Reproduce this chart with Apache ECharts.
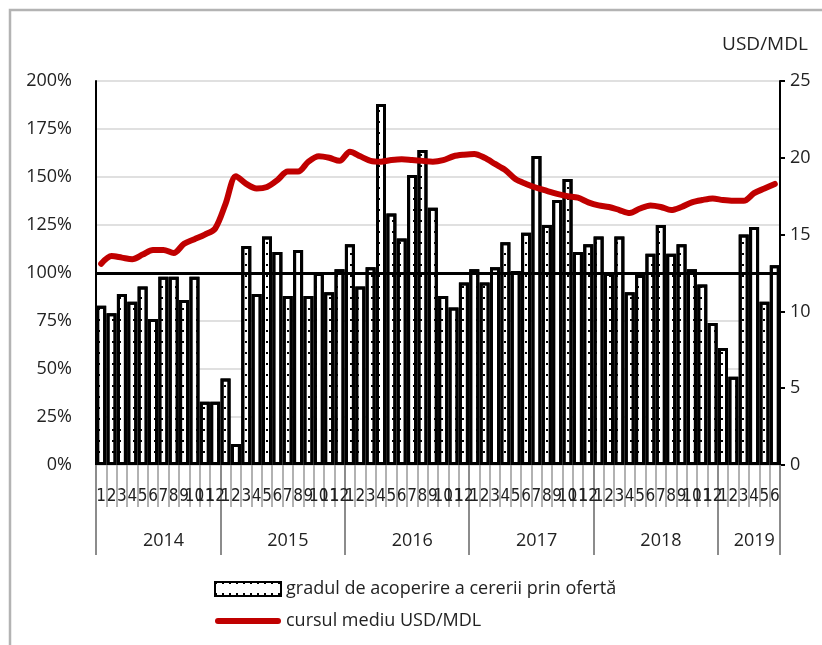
<!DOCTYPE html>
<html>
<head>
<meta charset="utf-8">
<script src="https://cdn.jsdelivr.net/npm/echarts@6/dist/echarts.min.js"></script>
<style>
  html, body { margin: 0; padding: 0; background: #fff; }
  #chart { width: 822px; height: 645px; }
</style>
</head>
<body>
<div id="chart"></div>
<script>
// luni ian.2014 - iun.2019
const years = ['2014', '2015', '2016', '2017', '2018', '2019'];
const monthsPerYear = [12, 12, 12, 12, 12, 6];

// gradul de acoperire a cererii prin oferta, %
const coverage2014 = [83, 79, 89, 85, 93, 76, 98, 98, 86, 98, 33, 33];
const coverage2015 = [45, 11, 114, 89, 119, 111, 88, 112, 88, 100, 90, 102];
const coverage2016 = [115, 93, 103, 188, 131, 118, 151, 164, 134, 88, 82, 95];
const coverage2017 = [102, 95, 103, 116, 101, 121, 161, 125, 138, 149, 111, 115];
const coverage2018 = [119, 100, 119, 90, 99, 110, 125, 110, 115, 102, 94, 74];
const coverage2019 = [61, 46, 120, 124, 85, 104];

// cursul mediu USD/MDL
const rate2014 = [13.1, 13.6, 13.5, 13.4, 13.7, 14.0, 14.0, 13.8, 14.4, 14.7, 15.0, 15.4];
const rate2015 = [17.0, 18.8, 18.3, 18.0, 18.1, 18.55, 19.1, 19.1, 19.75, 20.1, 20.0, 19.8];
const rate2016 = [20.4, 20.1, 19.8, 19.75, 19.85, 19.9, 19.85, 19.8, 19.75, 19.85, 20.1, 20.2];
const rate2017 = [20.25, 20.0, 19.6, 19.2, 18.6, 18.3, 18.05, 17.85, 17.65, 17.5, 17.4, 17.1];
const rate2018 = [16.9, 16.8, 16.6, 16.4, 16.7, 16.9, 16.8, 16.6, 16.8, 17.1, 17.25, 17.35];
const rate2019 = [17.25, 17.2, 17.2, 17.7, 18.0, 18.3];

const referenceLevel = 100;

const coverage = [].concat(coverage2014, coverage2015, coverage2016, coverage2017, coverage2018, coverage2019);
const rate = [].concat(rate2014, rate2015, rate2016, rate2017, rate2018, rate2019);

// etichete pe axa X: numarul lunii si anul
const monthLabels = [];
const yearOfMonth = [];
const yearLabelIndex = {};
let start = 0;
years.forEach(function (y, k) {
  const n = monthsPerYear[k];
  for (let m = 1; m <= n; m++) {
    monthLabels.push(String(m));
    yearOfMonth.push(y);
  }
  yearLabelIndex[start + n / 2 - 1] = true;
  start += n;
});
const yearStarts = {};
start = 0;
monthsPerYear.forEach(function (n) { yearStarts[start] = true; start += n; });

const FONT = "'Open Sans', sans-serif";
const RED = '#c00000';
const chart = echarts.init(document.getElementById('chart'));

const option = {
  animation: false,
  textStyle: { fontFamily: FONT },
  graphic: [{
    type: 'rect',
    shape: { x: 10, y: 10, width: 900, height: 700 },
    style: { fill: 'none', stroke: '#b3b3b3', lineWidth: 2.5 },
    silent: true
  }],
  grid: { left: 96, right: 42, top: 81, bottom: 180 },
  legend: {
    orient: 'vertical',
    left: 209,
    top: 575,
    itemWidth: 66,
    itemHeight: 14,
    itemGap: 14,
    itemTextGap: 8,
    textStyle: { fontFamily: FONT, fontSize: 18, color: '#222' },
    data: [
      { name: 'gradul de acoperire a cererii prin ofertă', icon: 'rect' },
      {
        name: 'cursul mediu USD/MDL',
        icon: 'path://M3,0 L63,0 A3,3 0 0 1 63,6 L3,6 A3,3 0 0 1 3,0 Z',
        itemStyle: { color: RED, borderWidth: 0 }
      }
    ]
  },
  xAxis: [
    {
      type: 'category',
      data: monthLabels,
      boundaryGap: true,
      axisLine: { show: false },
      axisTick: { show: true, interval: 0, length: 42, lineStyle: { color: '#999', width: 1.5 } },
      axisLabel: {
        interval: 0, margin: 23, fontSize: 17, color: '#222',
        fontFamily: "'DejaVu Sans Condensed', 'Liberation Sans Narrow', sans-serif"
      },
      splitLine: { show: false }
    },
    {
      type: 'category',
      data: yearOfMonth,
      boundaryGap: true,
      position: 'bottom',
      axisLine: { show: false },
      axisTick: {
        show: true,
        interval: function (i) { return !!yearStarts[i]; },
        length: 90,
        lineStyle: { color: '#8c8c8c', width: 2 }
      },
      axisLabel: {
        interval: function (i) { return !!yearLabelIndex[i]; },
        margin: 67,
        fontSize: 18,
        color: '#222',
        padding: [0, 0, 0, 21]
      },
      splitLine: { show: false }
    }
  ],
  yAxis: [
    {
      type: 'value',
      min: 0,
      max: 200,
      interval: 25,
      axisLine: { show: true, lineStyle: { color: '#000', width: 2 } },
      axisTick: { show: false },
      axisLabel: { formatter: '{value}%', fontSize: 18, color: '#222', margin: 24 },
      splitLine: { show: true, lineStyle: { color: '#d6d6d6', width: 1.5 } }
    },
    {
      type: 'value',
      min: 0,
      max: 25,
      interval: 5,
      position: 'right',
      name: 'USD/MDL',
      nameLocation: 'end',
      nameGap: 27,
      nameTextStyle: { fontSize: 19, color: '#222', padding: [0, 30, 0, 0] },
      axisLine: { show: true, lineStyle: { color: '#000', width: 2 } },
      axisTick: { show: true, length: 5, lineStyle: { color: '#000', width: 2 } },
      axisLabel: { fontSize: 18, color: '#222', margin: 10 },
      splitLine: { show: false }
    }
  ],
  series: [
    {
      name: 'gradul de acoperire a cererii prin ofertă',
      type: 'bar',
      xAxisIndex: 0,
      yAxisIndex: 0,
      data: coverage,
      barWidth: 10,
      barGap: '0%',
      itemStyle: {
        color: '#fff',
        borderColor: '#000',
        borderWidth: 3,
        decal: {
          symbol: 'rect',
          symbolSize: 1,
          dashArrayX: [1.5, 5],
          dashArrayY: [1.5, 9],
          color: '#000'
        }
      },
      markLine: {
        silent: true,
        symbol: ['none', 'none'],
        label: { show: false },
        lineStyle: { color: '#000', width: 3, type: 'solid' },
        data: [{ yAxis: referenceLevel }]
      },
      z: 2
    },
    {
      name: 'cursul mediu USD/MDL',
      type: 'line',
      xAxisIndex: 0,
      yAxisIndex: 1,
      data: rate,
      symbol: 'none',
      smooth: 0.3,
      lineStyle: { color: RED, width: 6, cap: 'round', join: 'round' },
      itemStyle: { color: RED },
      z: 6
    }
  ]
};

chart.setOption(option);
</script>
</body>
</html>
